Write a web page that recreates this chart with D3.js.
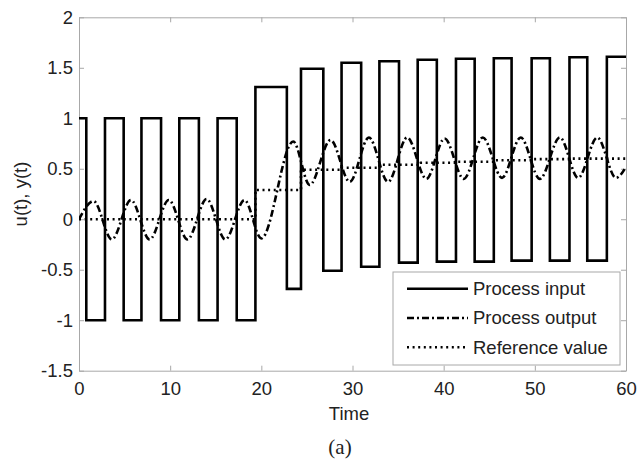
<!DOCTYPE html>
<html>
<head>
<meta charset="utf-8">
<script src="https://cdnjs.cloudflare.com/ajax/libs/d3/7.8.5/d3.min.js"></script>
<style>
  body { margin: 0; background: #fff; }
  text { font-family: "Liberation Sans", Arial, sans-serif; }
</style>
</head>
<body>
<div id="chart"></div>
<script>
// Process input (relay output): switching times and levels
const inputTime = [0, 0.8, 2.85, 4.9, 6.85, 9.0, 11.0, 13.15, 15.2, 17.3, 19.35, 22.8, 24.35, 26.8, 28.8,
                   30.95, 32.95, 35.1, 37.15, 39.25, 41.35, 43.4, 45.5, 47.45, 49.65, 51.65, 53.8, 55.75, 57.9];
const inputValue = [1, -1, 1, -1, 1, -1, 1, -1, 1, -1, 1.31, -0.69, 1.49, -0.51, 1.55,
                    -0.47, 1.565, -0.43, 1.58, -0.42, 1.59, -0.42, 1.595, -0.41, 1.595, -0.41, 1.605, -0.41, 1.61];

// Process output: peaks and troughs
const outputTime = [0, 1.6, 3.6, 5.7, 7.75, 9.85, 11.9, 14.0, 16.05, 18.15, 20.0, 23.5, 25.3, 27.6, 29.7,
                    31.8, 33.9, 36.0, 38.1, 40.1, 42.2, 44.3, 46.4, 48.45, 50.55, 52.75, 54.75, 56.85, 58.9, 60];
const outputValue = [0, 0.18, -0.2, 0.19, -0.2, 0.19, -0.2, 0.2, -0.2, 0.19, -0.19, 0.77, 0.34, 0.785, 0.37,
                     0.81, 0.37, 0.81, 0.40, 0.80, 0.40, 0.81, 0.41, 0.81, 0.40, 0.81, 0.41, 0.81, 0.41, 0.52];

// Reference value steps
const refTime = [0, 19.35, 24.35, 28.8, 32.95, 37.15, 41.35, 45.5, 49.65, 53.8, 57.9];
const refValue = [0, 0.29, 0.49, 0.51, 0.54, 0.56, 0.57, 0.585, 0.595, 0.6, 0.6];

const xTicks = [0, 10, 20, 30, 40, 50, 60];
const yTicks = [-1.5, -1, -0.5, 0, 0.5, 1, 1.5, 2];
const legendLabels = ["Process input", "Process output", "Reference value"];

const width = 638;
const height = 460;
const margin = { top: 17.3, right: 12, bottom: 89.3, left: 79 };
const innerW = width - margin.left - margin.right;
const innerH = height - margin.top - margin.bottom;

const svg = d3.select('#chart')
    .append('svg')
    .attr('width', width)
    .attr('height', height);

const x = d3.scaleLinear().domain([0, 60]).range([0, innerW]);
const y = d3.scaleLinear().domain([-1.5, 2]).range([innerH, 0]);

const g = svg.append('g')
    .attr('transform', `translate(${margin.left},${margin.top})`);

g.append('clipPath').attr('id', 'clip')
    .append('rect').attr('width', innerW).attr('height', innerH);

// Axes with inward ticks, mirrored on top and right
const axisColor = '#a8a8a8';
function styleAxis(sel) {
    sel.select('.domain').attr('stroke', axisColor);
    sel.selectAll('.tick line').attr('stroke', axisColor);
    sel.selectAll('.tick text').attr('fill', '#222').style('font-size', '18.5px');
}

g.append('g')
    .attr('transform', `translate(0,${innerH})`)
    .call(d3.axisBottom(x).tickValues(xTicks).tickSize(-5).tickPadding(11).tickSizeOuter(0))
    .call(styleAxis);
g.append('g')
    .call(d3.axisTop(x).tickValues(xTicks).tickSize(-5).tickFormat('').tickSizeOuter(0))
    .call(styleAxis);
g.append('g')
    .call(d3.axisLeft(y).tickValues(yTicks).tickSize(-5).tickPadding(6).tickSizeOuter(0)
        .tickFormat(d => String(d)))
    .call(styleAxis);
g.append('g')
    .attr('transform', `translate(${innerW},0)`)
    .call(d3.axisRight(y).tickValues(yTicks).tickSize(-5).tickFormat('').tickSizeOuter(0))
    .call(styleAxis);

// Series data
const inputData = inputTime.map((t, i) => [t, inputValue[i]]);
inputData.push([60, inputValue[inputValue.length - 1]]);
const refData = refTime.map((t, i) => [t, refValue[i]]);
refData.push([60, refValue[refValue.length - 1]]);
const outputData = outputTime.map((t, i) => [t, outputValue[i]]);

const stepLine = d3.line().x(d => x(d[0])).y(d => y(d[1])).curve(d3.curveStepAfter);
const smoothLine = d3.line().x(d => x(d[0])).y(d => y(d[1])).curve(d3.curveMonotoneX);

const plot = g.append('g').attr('clip-path', 'url(#clip)');

const styles = [
    { dash: null },
    { dash: '7,3,2,3' },
    { dash: '2,3.6' }
];

plot.append('path')
    .datum(inputData)
    .attr('d', stepLine)
    .attr('fill', 'none')
    .attr('stroke', '#000')
    .attr('stroke-width', 2.6);

plot.append('path')
    .datum(outputData)
    .attr('d', smoothLine)
    .attr('fill', 'none')
    .attr('stroke', '#000')
    .attr('stroke-width', 2.6)
    .attr('stroke-dasharray', styles[1].dash);

plot.append('path')
    .datum(refData)
    .attr('d', stepLine)
    .attr('fill', 'none')
    .attr('stroke', '#000')
    .attr('stroke-width', 2.6)
    .attr('stroke-dasharray', styles[2].dash);

// Axis labels
svg.append('text')
    .attr('x', 349)
    .attr('y', 420)
    .attr('text-anchor', 'middle')
    .attr('fill', '#222')
    .style('font-size', '18.5px')
    .text('Time');

svg.append('text')
    .attr('transform', `translate(27,${margin.top + innerH / 2}) rotate(-90)`)
    .attr('text-anchor', 'middle')
    .attr('fill', '#222')
    .style('font-size', '18.5px')
    .text('u(t), y(t)');

svg.append('text')
    .attr('x', 340)
    .attr('y', 454)
    .attr('text-anchor', 'middle')
    .attr('fill', '#222')
    .style('font-family', '"Liberation Serif", "Times New Roman", serif')
    .style('font-size', '21px')
    .text('(a)');

// Legend
const legend = svg.append('g').attr('transform', 'translate(393,272)');
legend.append('rect')
    .attr('width', 227)
    .attr('height', 93)
    .attr('fill', '#fff')
    .attr('stroke', axisColor);

legendLabels.forEach((label, i) => {
    const ly = 16.7 + i * 29.3;
    legend.append('line')
        .attr('x1', 14).attr('x2', 75)
        .attr('y1', ly).attr('y2', ly)
        .attr('stroke', '#000')
        .attr('stroke-width', 2.6)
        .attr('stroke-dasharray', styles[i].dash);
    legend.append('text')
        .attr('x', 80)
        .attr('y', ly)
        .attr('dy', '0.35em')
        .attr('fill', '#222')
        .style('font-size', '18.5px')
        .text(label);
});
</script>
</body>
</html>
